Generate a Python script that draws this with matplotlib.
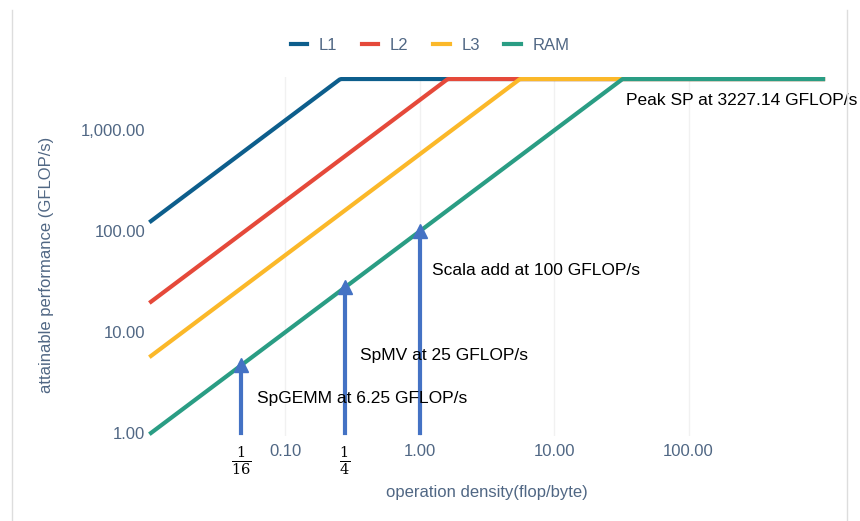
import numpy as np
import matplotlib.pyplot as plt
from matplotlib.lines import Line2D

# roofline: peak compute and bandwidth of each memory level
peak = 3227.14  # GFLOP/s
levels = ["L1", "L2", "L3", "RAM"]
bandwidth = [12600, 2000, 580, 100]  # GB/s
colors = ["#0d5e8c", "#e5493a", "#fbb829", "#2a9d84"]

# kernels marked with arrows (x = operation density, y = tip of arrow)
kern_x = [0.047, 0.277, 1.0]
kern_y = [4.7, 27.7, 100]
kern_text = ["SpGEMM at 6.25 GFLOP/s", "SpMV at 25 GFLOP/s", "Scala add at 100 GFLOP/s"]
text_pos = [(0.062, 2.2), (0.357, 5.9), (1.23, 40.6)]

xticks = [0.047, 0.1, 0.277, 1, 10, 100]
xlabels = [r"$\frac{1}{16}$", "0.10", r"$\frac{1}{4}$", "1.00", "10.00", "100.00"]
yticks = [1, 10, 100, 1000]
ylabels = ["1.00", "10.00", "100.00", "1,000.00"]

plt.rcParams["font.family"] = ["Liberation Sans", "DejaVu Sans"]
plt.rcParams["mathtext.fontset"] = "dejavuserif"
slate = "#506784"

fig = plt.figure(figsize=(8.6, 5.21), dpi=100)
ax = fig.add_axes([148 / 860, 1 - 436 / 521, 678 / 860, 359 / 521])

x = np.logspace(-2, 3, 400)
for name, bw, c in zip(levels, bandwidth, colors):
    ax.plot(x, np.minimum(bw * x, peak), color=c, lw=3, label=name)

for gx in [0.1, 1, 10, 100]:
    ax.axvline(gx, color="#f1f1f1", lw=1, zorder=0)

for kx, ky in zip(kern_x, kern_y):
    ax.plot([kx, kx], [1.0, ky], color="#4472c4", lw=3, zorder=3)
    ax.plot(kx, ky, marker="^", ms=10, color="#4472c4", zorder=4)

for t, (tx, ty) in zip(kern_text, text_pos):
    ax.text(tx, ty, t, fontsize=12.5, va="center", ha="left", color="black")
ax.text(34.2, 1980, "Peak SP at 3227.14 GFLOP/s", fontsize=12.5, va="center", ha="left", color="black")

ax.set_xscale("log")
ax.set_yscale("log")
ax.set_xlim(10 ** (-2 - 3 / 134.3), 10 ** (3 + 3 / 134.3))
ax.set_ylim(0.933, 3380)
ax.set_xticks(xticks)
ax.set_xticklabels(xlabels)
ax.set_yticks(yticks)
ax.set_yticklabels(ylabels)
ax.minorticks_off()
ax.tick_params(length=0, labelsize=12, colors=slate)
ax.tick_params(axis="x", pad=6)
ax.tick_params(axis="y", pad=2)
for lab in ax.get_xticklabels():
    if "frac" in lab.get_text():
        lab.set_color("black")
        lab.set_fontsize(15)
for s in ax.spines.values():
    s.set_visible(False)

fig.text(47 / 860, 1 - 265 / 521, "attainable performance (GFLOP/s)", rotation=90,
         ha="center", va="center", fontsize=12, color=slate)
fig.text(487 / 860, 1 - 492 / 521, "operation density(flop/byte)",
         ha="center", va="center", fontsize=12, color=slate)

leg = fig.legend(loc="center", bbox_to_anchor=(430 / 860, 1 - 45 / 521), ncol=4, frameon=False,
                 fontsize=12, handlelength=1.0, columnspacing=1.45, handletextpad=0.7)
for t in leg.get_texts():
    t.set_color(slate)

# screenshot frame edges
for fx in [11.5 / 860, 846.5 / 860]:
    fig.add_artist(Line2D([fx, fx], [0, 1 - 10 / 521], color="#dddddd", lw=1))

fig.savefig("out.png", dpi=100)
